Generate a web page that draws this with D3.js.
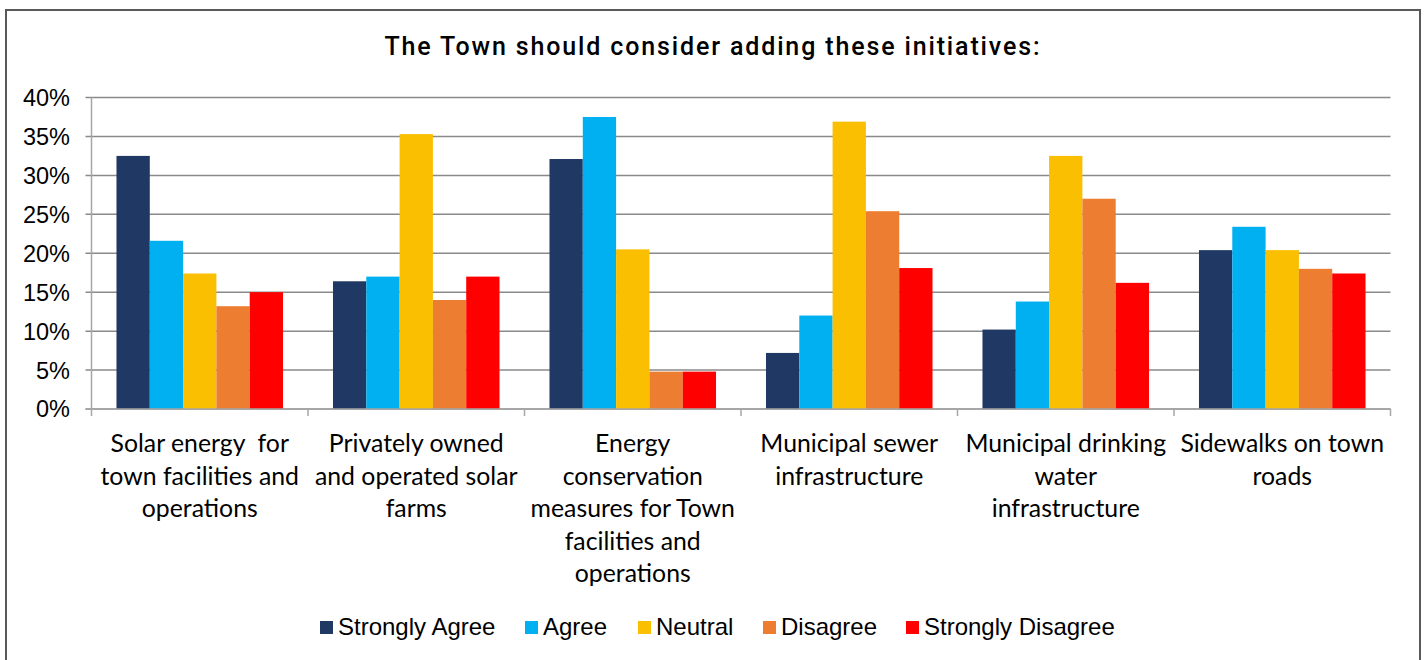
<!DOCTYPE html>
<html>
<head>
<meta charset="utf-8">
<script src="https://cdn.jsdelivr.net/npm/d3@7"></script>
<style>
  html, body { margin: 0; padding: 0; background: #fff; }
  svg { display: block; }
</style>
</head>
<body>
<svg id="chart" width="1426" height="660"></svg>
<script>
const title = "The Town should consider adding these initiatives:";
const categories = [
  ["Solar energy  for", "town facilities and", "operations"],
  ["Privately owned", "and operated solar", "farms"],
  ["Energy", "conservation", "measures for Town", "facilities and", "operations"],
  ["Municipal sewer", "infrastructure"],
  ["Municipal drinking", "water", "infrastructure"],
  ["Sidewalks on town", "roads"]
];
const seriesNames = ["Strongly Agree", "Agree", "Neutral", "Disagree", "Strongly Disagree"];
const seriesColors = ["#203864", "#00B0F0", "#F9BF00", "#ED7D31", "#FF0000"];
const stronglyAgree    = [0.325, 0.164, 0.321, 0.072, 0.102, 0.204];
const agree            = [0.216, 0.170, 0.375, 0.120, 0.138, 0.234];
const neutral          = [0.174, 0.353, 0.205, 0.369, 0.325, 0.204];
const disagree         = [0.132, 0.140, 0.048, 0.254, 0.270, 0.180];
const stronglyDisagree = [0.150, 0.170, 0.048, 0.181, 0.162, 0.174];
const seriesValues = [stronglyAgree, agree, neutral, disagree, stronglyDisagree];
const yTicks = [0, 0.05, 0.10, 0.15, 0.20, 0.25, 0.30, 0.35, 0.40];

const svg = d3.select("#chart");

// frame
svg.append("rect")
  .attr("x", 6).attr("y", 10).attr("width", 1414).attr("height", 700)
  .attr("fill", "none").attr("stroke", "#595959").attr("stroke-width", 2);

// title
svg.append("text")
  .attr("x", 712).attr("y", 55)
  .attr("text-anchor", "middle")
  .attr("font-family", "Roboto, sans-serif")
  .attr("font-weight", 500)
  .attr("font-size", 25)
  .attr("textLength", 655)
  .attr("lengthAdjust", "spacing")
  .attr("fill", "#000")
  .text(title);

const plotLeft = 91.5, plotRight = 1390.5, plotTop = 97.5, plotBottom = 409;
const idx = d3.range(categories.length);
const x0 = d3.scaleBand().domain(idx).range([plotLeft, plotRight]).paddingInner(0).paddingOuter(0);
const x1 = d3.scaleBand().domain(seriesNames).range([0, x0.bandwidth()]).paddingInner(0).paddingOuter(0.75);
const y = d3.scaleLinear().domain([0, 0.4]).range([plotBottom, plotTop]);

// gridlines
svg.append("g").selectAll("line").data(yTicks).join("line")
  .attr("x1", plotLeft - 6).attr("x2", plotRight)
  .attr("y1", d => y(d)).attr("y2", d => y(d))
  .attr("stroke", "#8a8a8a").attr("stroke-width", 1.5);

// y axis tick labels
svg.append("g").selectAll("text").data(yTicks).join("text")
  .attr("x", 70).attr("y", d => y(d)).attr("dy", "0.36em")
  .attr("text-anchor", "end")
  .attr("font-family", "'Liberation Sans', Arial, sans-serif")
  .attr("font-size", 23.5)
  .attr("fill", "#000")
  .text(d => d3.format(".0%")(d));

// bars
const groups = svg.append("g").selectAll("g").data(idx).join("g")
  .attr("transform", i => `translate(${x0(i)},0)`);
groups.selectAll("rect")
  .data(i => seriesNames.map((s, k) => ({ s, k, v: seriesValues[k][i] })))
  .join("rect")
  .attr("x", d => x1(d.s))
  .attr("width", x1.bandwidth())
  .attr("y", d => y(d.v))
  .attr("height", d => y(0) - y(d.v))
  .attr("fill", d => seriesColors[d.k]);

// y axis line
svg.append("line")
  .attr("x1", plotLeft).attr("x2", plotLeft).attr("y1", plotTop).attr("y2", plotBottom + 7)
  .attr("stroke", "#a6a6a6").attr("stroke-width", 1.5);
// x axis line
svg.append("line")
  .attr("x1", plotLeft - 6).attr("x2", plotRight).attr("y1", plotBottom).attr("y2", plotBottom)
  .attr("stroke", "#a6a6a6").attr("stroke-width", 1.5);
// x ticks at category boundaries
const bounds = idx.map(i => x0(i) + x0.bandwidth());
svg.append("g").selectAll("line").data(bounds).join("line")
  .attr("x1", d => d).attr("x2", d => d).attr("y1", plotBottom).attr("y2", plotBottom + 7)
  .attr("stroke", "#a6a6a6").attr("stroke-width", 1.5);

// x labels
const xl = svg.append("g").selectAll("text").data(idx).join("text")
  .attr("text-anchor", "middle")
  .attr("font-family", "Lato, sans-serif")
  .attr("font-size", 24.8)
  .attr("fill", "#000");
xl.each(function(i) {
  const t = d3.select(this);
  categories[i].forEach((line, j) => {
    t.append("tspan")
      .attr("x", x0(i) + x0.bandwidth() / 2)
      .attr("y", 452 + j * 32.5)
      .style("white-space", "pre")
      .text(line);
  });
});

// legend
const legendX = [320, 525, 638, 763, 906];
const lg = svg.append("g").selectAll("g").data(seriesNames).join("g")
  .attr("transform", (d, k) => `translate(${legendX[k]},621)`);
lg.append("rect").attr("width", 13).attr("height", 13).attr("fill", (d, k) => seriesColors[k]);
lg.append("text")
  .attr("x", 18).attr("y", 13.5)
  .attr("font-family", "'Liberation Sans', Arial, sans-serif")
  .attr("font-size", 24)
  .attr("fill", "#000")
  .text(d => d);
</script>
</body>
</html>
